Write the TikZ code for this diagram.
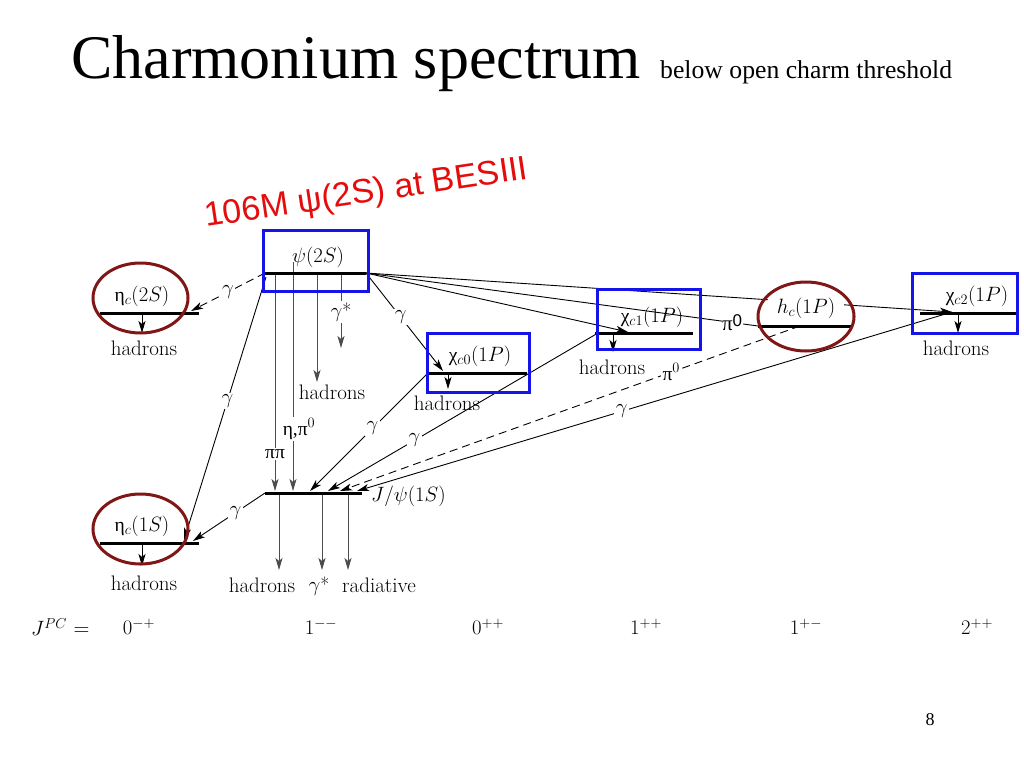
\documentclass[tikz,border=0pt]{standalone}
\usepackage{fontspec}
\newfontfamily\tnr{Liberation Serif}
\newfontfamily\ars{Liberation Sans}
\usetikzlibrary{arrows.meta,shapes.geometric}
\definecolor{boxblue}{RGB}{20,20,230}
\definecolor{ellred}{RGB}{128,22,22}
\definecolor{bannerred}{RGB}{228,12,12}
\newcommand\labfont{\fontsize{19.5}{22}\selectfont}
\newcommand\wordfont{\fontsize{21}{24}\selectfont}
\newcommand\jpcfont{\fontsize{22}{24}\selectfont}
\begin{document}
\begin{tikzpicture}[x=1pt,y=-1pt,
  level/.style={line width=3pt},
  conn/.style={line width=0.9pt,-{Stealth[length=12pt,width=7pt,inset=3pt]}},
  vconn/.style={conn, draw=black!70},
  dconn/.style={conn, dash pattern=on 8pt off 5pt},
  lab/.style={font=\labfont, inner sep=1.5pt, fill=white},
  txt/.style={font=\labfont, inner sep=0pt},
  word/.style={font=\wordfont, inner sep=0pt},
  jpc/.style={font=\jpcfont, inner sep=0pt},
  hbox/.style={draw=boxblue, line width=3pt},
  ring/.style={draw=ellred, line width=3pt, ellipse, minimum width=95pt, minimum height=70pt, inner sep=0pt},
]
\useasboundingbox[fill=white] (0,0) rectangle (1024,768);

% ---------- title ----------
\node[anchor=base west, inner sep=0pt, font=\tnr\fontsize{62}{68}\selectfont] (title) at (71,78) {Charmonium spectrum};
\node[anchor=base west, inner sep=0pt, font=\tnr\fontsize{25.7}{28}\selectfont] (subtitle) at (660,78) {below open charm threshold};
\node[anchor=base, inner sep=0pt, font=\tnr\fontsize{18}{20}\selectfont] (pagenum) at (930,725) {8};

% ---------- coordinates ----------
\coordinate (psiL) at (265,273); \coordinate (psiR) at (366,273);
\coordinate (jL) at (265,493);   \coordinate (jR) at (362,493);
\coordinate (e2L) at (100,313);  \coordinate (e2R) at (199,313);
\coordinate (e1L) at (100,543);  \coordinate (e1R) at (199,543);
\coordinate (c0L) at (428,373);  \coordinate (c0R) at (527,373);
\coordinate (c1L) at (595,333);  \coordinate (c1R) at (693,333);
\coordinate (hcL) at (758,326);  \coordinate (hcR) at (853,326);
\coordinate (c2L) at (920,313);  \coordinate (c2R) at (1017,313);

\coordinate (psiA) at (266,277);
\coordinate (e2in) at (191,311);
\coordinate (e1in) at (184,540);
\coordinate (e1inb) at (193,541);
\coordinate (c0in) at (443,371);
\coordinate (c1in) at (628,332);
\coordinate (c2in) at (952,312);
\coordinate (c1s) at (598,333);
\coordinate (hcs) at (800,326);
\coordinate (jin0) at (310,491);
\coordinate (jin1) at (328,491);
\coordinate (jin2) at (340,491);
\coordinate (jin3) at (357,491);

\coordinate (v1t) at (275,273); \coordinate (v1b) at (275,491);
\coordinate (v2t) at (293,262); \coordinate (v2b) at (293,491);
\coordinate (v3t) at (317,273); \coordinate (v3b) at (317,382);
\coordinate (v4t) at (341,273); \coordinate (v4b) at (341,348);
\coordinate (d1t) at (279,493); \coordinate (d1b) at (279,570);
\coordinate (d2t) at (322,493); \coordinate (d2b) at (322,570);
\coordinate (d3t) at (348,493); \coordinate (d3b) at (348,570);
\coordinate (h1t) at (142,313); \coordinate (h1b) at (142,333);
\coordinate (h2t) at (142,543); \coordinate (h2b) at (142,566);
\coordinate (h3t) at (448,373); \coordinate (h3b) at (448,389);
\coordinate (h4t) at (613,333); \coordinate (h4b) at (613,352);
\coordinate (h5t) at (958,313); \coordinate (h5b) at (958,333);

% ---------- transitions ----------
\draw[dconn] (psiL) -- node[lab] {$\gamma$} (e2in);
\draw[conn] (psiA) -- node[lab, pos=0.47] {$\gamma$} (e1in);
\draw[conn] (jL) -- node[lab, pos=0.41] {$\gamma$} (e1inb);
\draw[conn] (psiR) -- node[lab, pos=0.45] {$\gamma$} (c0in);
\draw[conn] (psiR) -- (c1in);
\draw[line width=0.9pt] (psiR) -- node[lab, pos=0.934, inner sep=0.5pt] {{\tnr\fontsize{21}{22}\selectfont π}\raisebox{0.55ex}{\ars\fontsize{17}{18}\selectfont 0}} (hcL);
\draw[conn] (psiR) -- (c2in);

\draw[conn] (c0L) -- node[lab, pos=0.47] {$\gamma$} (jin0);
\draw[conn] (c1s) -- node[lab, pos=0.68] {$\gamma$} (jin1);
\draw[dconn] (hcs) -- node[lab, pos=0.28] {{\tnr π}$^0$} (jin2);
\draw[conn] (c2in) -- node[lab, pos=0.555] {$\gamma$} (jin3);

\draw[vconn] (v1t) -- node[lab, pos=0.83] {\tnr ππ} (v1b);
\draw[vconn] (v2t) -- node[lab, pos=0.73, xshift=6pt] {{\tnr η,π}$^0$} (v2b);
\draw[vconn] (v3t) -- (v3b);
\draw[vconn] (v4t) -- node[lab, pos=0.52] {$\gamma$*} (v4b);
\node[word, anchor=north] (had0) at (332,385) {hadrons};

\draw[vconn] (d1t) -- (d1b);
\draw[vconn] (d2t) -- (d2b);
\draw[vconn] (d3t) -- (d3b);
\node[word] (hadJ) at (262,585) {hadrons};
\node[txt] (gsJ) at (319,586) {$\gamma$*};
\node[word] (radJ) at (379,585) {radiative};

\draw[conn] (h1t) -- (h1b);
\draw[conn] (h2t) -- (h2b);
\draw[conn] (h3t) -- (h3b);
\draw[conn] (h4t) -- (h4b);
\draw[conn] (h5t) -- (h5b);
\node[word] (hadE2) at (144,348) {hadrons};
\node[word] (hadE1) at (144,583) {hadrons};
\node[word] (hadC0) at (447,403) {hadrons};
\node[word] (hadC1) at (612,367) {hadrons};
\node[word] (hadC2) at (956,348) {hadrons};

% ---------- levels ----------
\draw[level] (psiL) -- (psiR);
\draw[level] (jL) -- (jR);
\draw[level] (e2L) -- (e2R);
\draw[level] (e1L) -- (e1R);
\draw[level] (c0L) -- (c0R);
\draw[level] (c1L) -- (c1R);
\draw[level] (hcL) -- (hcR);
\draw[level] (c2L) -- (c2R);

% ---------- level names ----------
\node[txt] (nPsi) at (318,257) {$\psi(2S)$};
\node[txt, anchor=west] (nJ) at (371,496) {$J/\psi(1S)$};
\node[txt] (nE2) at (142,296) {{\tnr η}$_c(2S)$};
\node[txt] (nE1) at (142,526) {{\tnr η}$_c(1S)$};
\node[txt] (nC0) at (480,356) {{\tnr χ}$_{c0}(1P)$};
\node[txt] (nC1) at (652,317) {{\tnr χ}$_{c1}(1P)$};
\node[lab, inner xsep=9pt] (nHc) at (806,308) {$h_c(1P)$};
\node[txt] (nC2) at (977,296) {{\tnr χ}$_{c2}(1P)$};

% ---------- J^PC row ----------
\node[jpc, anchor=west] (jpcL) at (31,627) {$J^{PC}$ =};
\node[jpc] (q1) at (139,627) {$0^{-+}$};
\node[jpc] (q2) at (321,627) {$1^{--}$};
\node[jpc] (q3) at (488,627) {$0^{++}$};
\node[jpc] (q4) at (646,627) {$1^{++}$};
\node[jpc] (q5) at (806,627) {$1^{+-}$};
\node[jpc] (q6) at (977,627) {$2^{++}$};

% ---------- annotations ----------
\draw[hbox] (263,230) rectangle (368,291);
\draw[hbox] (427,333) rectangle (529,392);
\draw[hbox] (597,289) rectangle (700,349);
\draw[hbox] (912,273) rectangle (1017,333);
\node[ring] (r1) at (140.5,298) {};
\node[ring] (r2) at (140.5,529) {};
\node[ring, minimum width=96pt, minimum height=69pt] (r3) at (806,316.5) {};

\node[rotate=8.5, anchor=base west, inner sep=0pt, text=bannerred, font=\ars\fontsize{34}{38}\selectfont] (banner) at (206,227) {106M ψ(2S) at BESIII};
\end{tikzpicture}
\end{document}
